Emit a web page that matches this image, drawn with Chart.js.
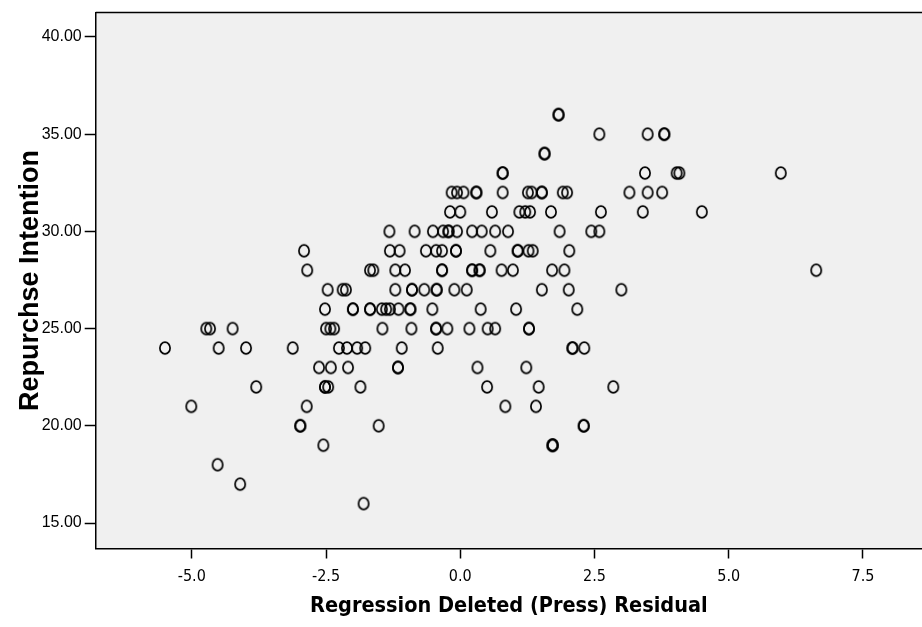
<!DOCTYPE html>
<html>
<head>
<meta charset="utf-8">
<script src="https://cdn.jsdelivr.net/npm/chart.js@4.4.1/dist/chart.umd.min.js"></script>
<style>
  html, body { margin: 0; padding: 0; background: #fff; }
  #wrap { width: 922px; height: 627px; }
</style>
</head>
<body>
<div id="wrap"><canvas id="scatterChart" width="922" height="627"></canvas></div>
<script>
// Regression deleted (press) residual
let pressResidual = [
    1.83, 1.83,
    2.59, 3.49, 3.80, 3.80,
    1.57, 1.57,
    0.79, 0.79, 3.44, 4.03, 4.08, 5.97,
    -0.16, -0.06, 0.06, 0.30, 0.30, 0.79, 1.26, 1.33, 1.52, 1.52, 1.91, 1.99, 3.15, 3.49, 3.76,
    -0.19, 0.00, 0.59, 1.10, 1.21, 1.30, 1.69, 2.62, 3.40, 4.50,
    -1.32, -0.85, -0.51, -0.32, -0.22, -0.22, -0.06, 0.22, 0.40, 0.65, 0.89, 1.85, 2.44, 2.59,
    -2.91, -1.31, -1.13, -0.64, -0.45, -0.34, -0.08, -0.08, 0.56, 1.07, 1.07, 1.27, 1.35, 2.03,
    -2.85, -1.68, -1.62, -1.21, -1.03, -0.34, -0.34, 0.22, 0.22, 0.36, 0.36, 0.77, 0.98, 1.71, 1.94, 6.63,
    -2.47, -2.19, -2.13, -1.21, -0.90, -0.90, -0.67, -0.44, -0.44, -0.11, 0.12, 1.52, 2.02, 3.00,
    -2.52, -2.00, -2.00, -1.68, -1.68, -1.46, -1.38, -1.31, -1.15, -0.93, -0.93, -0.52, 0.38, 1.04, 2.18,
    -4.73, -4.66, -4.24, -2.50, -2.42, -2.35, -1.45, -0.91, -0.45, -0.45, -0.24, 0.17, 0.51, 0.65, 1.28, 1.28,
    -5.50, -4.50, -3.99, -3.12, -2.26, -2.11, -1.92, -1.77, -1.09, -0.42, 2.09, 2.09, 2.31,
    -2.63, -2.41, -2.09, -1.16, -1.16, 0.32, 1.23,
    -3.80, -2.52, -2.52, -2.46, -1.86, 0.50, 1.46, 2.85,
    -5.01, -2.86, 0.84, 1.41,
    -2.98, -2.98, -1.52, 2.30, 2.30,
    -2.55, 1.72, 1.72, 1.72,
    -4.52,
    -4.10,
    -1.80
];

// Repurchase intention score for each point above (same order)
let repurchaseIntention = [
    36, 36,
    35, 35, 35, 35,
    34, 34,
    33, 33, 33, 33, 33, 33,
    32, 32, 32, 32, 32, 32, 32, 32, 32, 32, 32, 32, 32, 32, 32,
    31, 31, 31, 31, 31, 31, 31, 31, 31, 31,
    30, 30, 30, 30, 30, 30, 30, 30, 30, 30, 30, 30, 30, 30,
    29, 29, 29, 29, 29, 29, 29, 29, 29, 29, 29, 29, 29, 29,
    28, 28, 28, 28, 28, 28, 28, 28, 28, 28, 28, 28, 28, 28, 28, 28,
    27, 27, 27, 27, 27, 27, 27, 27, 27, 27, 27, 27, 27, 27,
    26, 26, 26, 26, 26, 26, 26, 26, 26, 26, 26, 26, 26, 26, 26,
    25, 25, 25, 25, 25, 25, 25, 25, 25, 25, 25, 25, 25, 25, 25, 25,
    24, 24, 24, 24, 24, 24, 24, 24, 24, 24, 24, 24, 24,
    23, 23, 23, 23, 23, 23, 23,
    22, 22, 22, 22, 22, 22, 22, 22,
    21, 21, 21, 21,
    20, 20, 20, 20, 20,
    19, 19, 19, 19,
    18,
    17,
    16
];

let xTicks = [-5.0, -2.5, 0.0, 2.5, 5.0, 7.5];
let yTicks = [15, 20, 25, 30, 35, 40];

let xTitle = "Regression Deleted (Press) Residual";
let yTitle = "Repurchse Intention";

function buildPoints() {
    let points = [];
    pressResidual.forEach((x, i) => {
        points.push({ x: x, y: repurchaseIntention[i] });
    });
    return points;
}

// SPSS draws its markers as slightly tall open ellipses
function makeMarker() {
    let c = document.createElement("canvas");
    c.width = 16;
    c.height = 18;
    let g = c.getContext("2d");
    g.strokeStyle = "#000";
    g.lineWidth = 1.7;
    g.beginPath();
    g.ellipse(8, 9, 5.1, 5.9, 0, 0, Math.PI * 2);
    g.stroke();
    return c;
}

// grey plot area like the SPSS output
const plotBackground = {
    id: "plotBackground",
    beforeDraw(chart) {
        let ctx = chart.ctx;
        let a = chart.chartArea;
        ctx.save();
        ctx.fillStyle = "#f0f0f0";
        ctx.fillRect(a.left, a.top, chart.width - a.left, a.bottom - a.top);
        ctx.strokeStyle = "#000";
        ctx.lineWidth = 1.5;
        ctx.beginPath();
        ctx.moveTo(a.left, a.top);
        ctx.lineTo(chart.width, a.top);
        ctx.stroke();
        ctx.restore();
    }
};

let narrowFont = "'Liberation Sans Narrow', 'Arial Narrow', 'DejaVu Sans Condensed', sans-serif";
let plainFont = "'Liberation Sans', Arial, sans-serif";

document.addEventListener("DOMContentLoaded", () => {
    let ctx = document.getElementById("scatterChart").getContext("2d");
    window.scatterChartInstance = new Chart(ctx, {
        type: "scatter",
        data: {
            datasets: [{
                data: buildPoints(),
                pointStyle: makeMarker(),
                pointRadius: 6,
                pointHoverRadius: 6,
                borderColor: "#000",
                backgroundColor: "rgba(0,0,0,0)",
                clip: false
            }]
        },
        options: {
            responsive: false,
            animation: false,
            layout: { autoPadding: false, padding: { top: 10.7, right: 0, left: 0, bottom: 0 } },
            plugins: {
                legend: { display: false },
                tooltip: { enabled: false }
            },
            scales: {
                x: {
                    type: "linear",
                    min: -6.79,
                    max: 8.6,
                    afterBuildTicks: scale => {
                        scale.ticks = xTicks.map(v => ({ value: v }));
                    },
                    afterFit: scale => {
                        scale.height = 78.5;
                        scale.paddingLeft = 0;
                        scale.paddingRight = 0;
                    },
                    border: { display: true, color: "#000", width: 1.5 },
                    grid: { drawOnChartArea: false, drawTicks: true, tickLength: 10, tickWidth: 1.5, tickColor: "#000" },
                    ticks: {
                        color: "#000",
                        padding: 9,
                        maxRotation: 0,
                        font: { family: narrowFont, size: 16 },
                        callback: v => v.toFixed(1)
                    },
                    title: {
                        display: true,
                        text: xTitle,
                        color: "#000",
                        padding: { top: 4, bottom: 8 },
                        font: { family: narrowFont, size: 21.5, weight: "bold" }
                    }
                },
                y: {
                    type: "linear",
                    min: 13.69,
                    max: 41.25,
                    afterBuildTicks: scale => {
                        scale.ticks = yTicks.map(v => ({ value: v }));
                    },
                    afterFit: scale => { scale.width = 95.7; },
                    border: { display: true, color: "#000", width: 1.5 },
                    grid: { drawOnChartArea: false, drawTicks: true, tickLength: 11, tickWidth: 1.5, tickColor: "#000" },
                    ticks: {
                        color: "#000",
                        padding: 3,
                        font: { family: plainFont, size: 16 },
                        callback: v => v.toFixed(2)
                    },
                    title: {
                        display: true,
                        text: yTitle,
                        color: "#000",
                        padding: { top: 14, bottom: 4 },
                        font: { family: plainFont, size: 27, weight: "bold" }
                    }
                }
            }
        },
        plugins: [plotBackground]
    });
});
</script>
</body>
</html>
